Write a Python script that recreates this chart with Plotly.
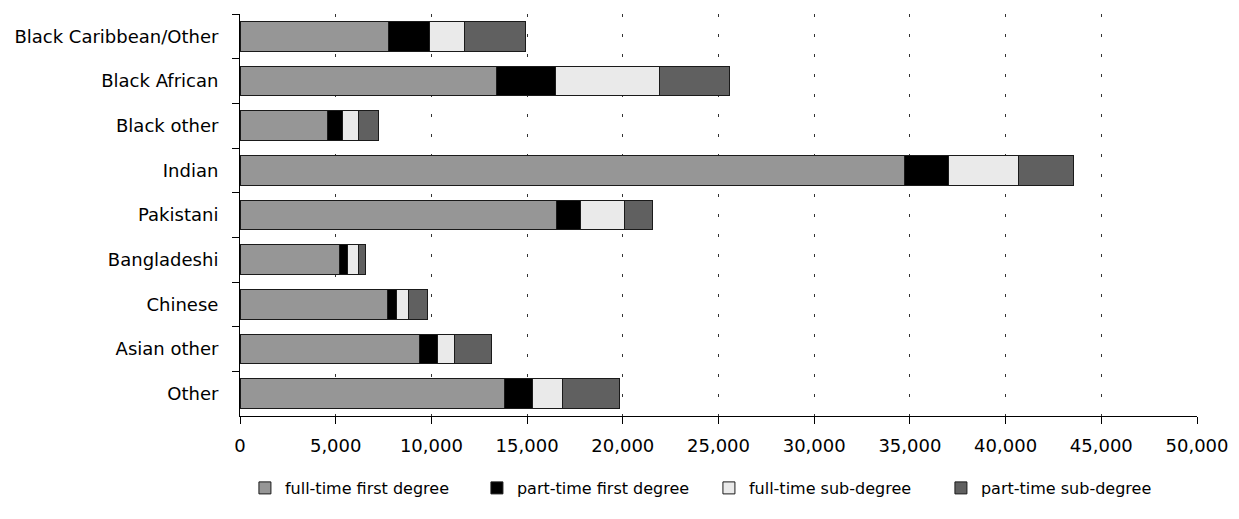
import plotly.graph_objects as go

categories = ["Black Caribbean/Other", "Black African", "Black other", "Indian",
              "Pakistani", "Bangladeshi", "Chinese", "Asian other", "Other"]
series_names = ["full-time first degree", "part-time first degree",
                "full-time sub-degree", "part-time sub-degree"]
ft_first = [7755, 13400, 4560, 34730, 16525, 5180, 7720, 9380, 13800]
pt_first = [2140, 3100, 810, 2280, 1265, 435, 450, 930, 1465]
ft_sub = [1850, 5410, 815, 3670, 2280, 600, 640, 880, 1570]
pt_sub = [3195, 3650, 1035, 2870, 1480, 335, 980, 1970, 3005]
x_ticks = list(range(0, 50001, 5000))

colors = ["#969696", "#000000", "#eaeaea", "#606060"]
FONT = "DejaVu Sans"

fig = go.Figure()
for name, vals, col in zip(series_names, [ft_first, pt_first, ft_sub, pt_sub], colors):
    fig.add_trace(go.Bar(
        y=categories, x=vals, name=name, orientation="h",
        marker=dict(color=col, line=dict(color="#1a1a1a", width=1)),
    ))

n = len(categories)
bounds = [i - 0.5 for i in range(n + 1)]

W, H = 1231, 511
fig.update_layout(
    barmode="stack",
    bargap=0.33,
    width=W, height=H,
    margin=dict(l=224, r=42, t=6, b=103),
    paper_bgcolor="white", plot_bgcolor="white",
    font=dict(family=FONT, size=18, color="black"),
    showlegend=True,
    legend=dict(orientation="h", xref="paper", x=0.49, xanchor="center",
                yref="container", y=31 / H, yanchor="middle",
                font=dict(size=16, family=FONT), traceorder="normal",
                entrywidth=187, itemclick=False),
    xaxis=dict(range=[0, 50000], tickvals=x_ticks, tickformat=",",
               showline=True, linecolor="black", linewidth=1,
               ticks="outside", ticklen=7, tickcolor="black",
               ticklabelstandoff=6,
               showgrid=True, gridcolor="#333333", gridwidth=1, griddash="3px,17px",
               zeroline=False, fixedrange=True),
    xaxis2=dict(range=[0, 50000], tickvals=x_ticks, overlaying="x",
                side="bottom", anchor="y", ticks="inside", ticklen=7,
                tickcolor="black", showticklabels=False, showgrid=False,
                showline=False, zeroline=False),
    yaxis=dict(categoryorder="array", categoryarray=categories,
               range=[n - 0.5, -0.5], showline=True, linecolor="black",
               linewidth=1, ticks="outside", ticklen=7, tickcolor="black",
               tickson="boundaries", ticklabelstandoff=17,
               showgrid=False, zeroline=False, fixedrange=True),
    yaxis2=dict(range=[n - 0.5, -0.5], tickvals=bounds, overlaying="y",
                side="left", anchor="x", ticks="inside", ticklen=8,
                tickcolor="black", showticklabels=False, showgrid=False,
                showline=False, zeroline=False),
)

fig.write_html("out.html")
